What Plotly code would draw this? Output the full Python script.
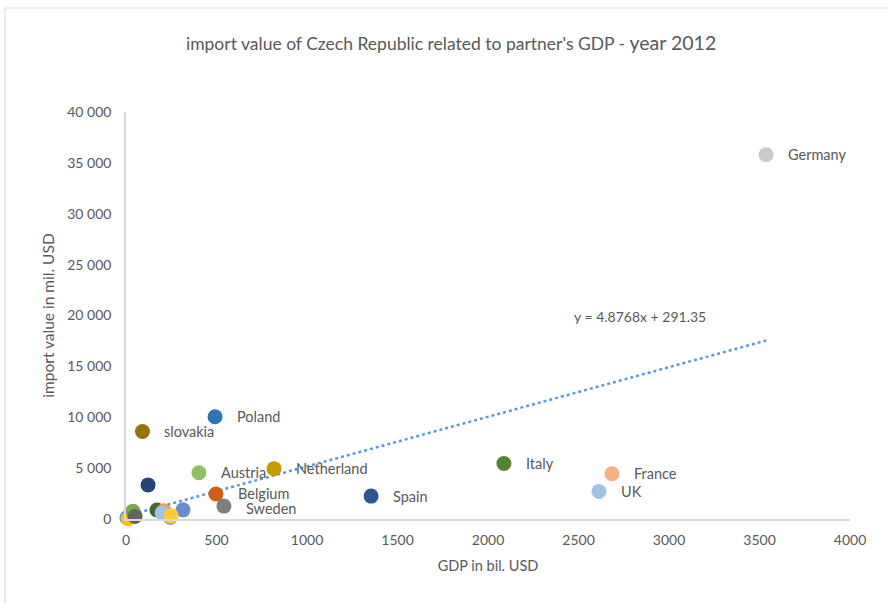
import plotly.graph_objects as go

# GDP of each partner country (bil. USD) and Czech imports from it (mil. USD), 2012
countries = ["", "", "", "", "", "", "Poland", "Belgium", "Sweden", "Netherland",
             "", "Italy", "France", "UK", "Germany", "slovakia", "Spain", "Austria",
             "", "", "", "", ""]
gdp = [5, 40, 245, 12, 315, 38, 492, 497, 541, 818,
       122, 2088, 2685, 2613, 3536, 91, 1354, 403,
       171, 210, 200, 249, 50]
imports = [120, 400, 150, 30, 900, 750, 10050, 2450, 1270, 4950,
           3350, 5450, 4450, 2700, 35800, 8600, 2250, 4550,
           880, 800, 600, 330, 250]
colors = ["#5B9BD5", "#C55A11", "#A5A5A5", "#FFC000", "#698ED0", "#70AD47",
          "#2E75B6", "#D45F17", "#7F7F7F", "#C99A04", "#264478", "#548235",
          "#F4B183", "#9DC3E6", "#C9C9C9", "#997300", "#2F5597", "#8CC168",
          "#43682B", "#F1975A", "#9DC3E6", "#FFCD33", "#636363"]

# Linear trend fitted to the points
slope = 4.8768
intercept = 291.35
trend_label = "y = 4.8768x + 291.35"

x_ticks = [0, 500, 1000, 1500, 2000, 2500, 3000, 3500, 4000]
y_ticks = [0, 5000, 10000, 15000, 20000, 25000, 30000, 35000, 40000]

FONT = "Lato, Calibri, Carlito, Open Sans, sans-serif"
TEXT = "#595959"

# Small vertical nudges (px) for labels of points that sit close together
label_nudge = {"Belgium": 1, "Sweden": -2}

fig = go.Figure()

trend_x = [min(gdp), max(gdp)]
trend_y = [slope * v + intercept for v in trend_x]
fig.add_trace(go.Scatter(
    x=trend_x, y=trend_y, mode="lines",
    line=dict(color="#5B9BD5", width=2.5, dash="dot"),
    hoverinfo="skip", showlegend=False, cliponaxis=False,
))

fig.add_trace(go.Scatter(
    x=gdp, y=imports, mode="markers",
    marker=dict(size=15, color=colors, line=dict(width=0)),
    text=countries, showlegend=False, cliponaxis=False,
))

# Country labels placed to the right of each point
for name, gx, iy in zip(countries, gdp, imports):
    if name:
        fig.add_annotation(
            x=gx, y=iy, text=name, showarrow=False,
            xanchor="left", yanchor="middle", xshift=20,
            yshift=label_nudge.get(name, 0),
            font=dict(family=FONT, size=14.5, color=TEXT),
        )

fig.add_annotation(
    x=2840, y=19950, text=trend_label, showarrow=False,
    font=dict(family=FONT, size=14, color=TEXT),
)

# Thin chart-area frame along the left and top edges
fig.add_shape(type="line", xref="paper", yref="paper",
              x0=(5 - 126) / 724, x1=(888 - 126) / 724,
              y0=(603 - 84 - 8) / 407, y1=(603 - 84 - 8) / 407,
              line=dict(color="#D9D9D9", width=1))
fig.add_shape(type="line", xref="paper", yref="paper",
              x0=(5 - 126) / 724, x1=(5 - 126) / 724,
              y0=-84 / 407, y1=(603 - 84 - 8) / 407,
              line=dict(color="#D9D9D9", width=1))

fig.update_layout(
    width=888, height=603,
    margin=dict(l=126, r=38, t=112, b=84, autoexpand=False),
    paper_bgcolor="white", plot_bgcolor="white",
    separators=". ",
    font=dict(family=FONT, size=14, color=TEXT),
    title=dict(
        text="import value of Czech Republic related to partner's GDP - <span style='font-size:19.5px'>year 2012</span>",
        x=0.508, xanchor="center", y=1 - 44 / 603, yanchor="middle",
        font=dict(family=FONT, size=17.5, color=TEXT),
    ),
    xaxis=dict(
        range=[0, 4000], tickvals=x_ticks, tickformat="d",
        showgrid=False, zeroline=False,
        showline=True, linecolor="#D9D9D9", linewidth=1.5,
        ticks="", ticklabelstandoff=7,
        tickfont=dict(family=FONT, size=14, color=TEXT),
        title=dict(text="GDP in bil. USD", standoff=14,
                   font=dict(family=FONT, size=14.5, color=TEXT)),
    ),
    yaxis=dict(
        range=[0, 40000], tickvals=y_ticks, tickformat=",",
        showgrid=False, zeroline=False,
        showline=True, linecolor="#D9D9D9", linewidth=1.5,
        ticks="", ticklabelstandoff=10,
        tickfont=dict(family=FONT, size=14, color=TEXT),
        title=dict(text="import value in mil. USD", standoff=9,
                   font=dict(family=FONT, size=15.5, color=TEXT)),
    ),
)

fig.write_html("out.html")
